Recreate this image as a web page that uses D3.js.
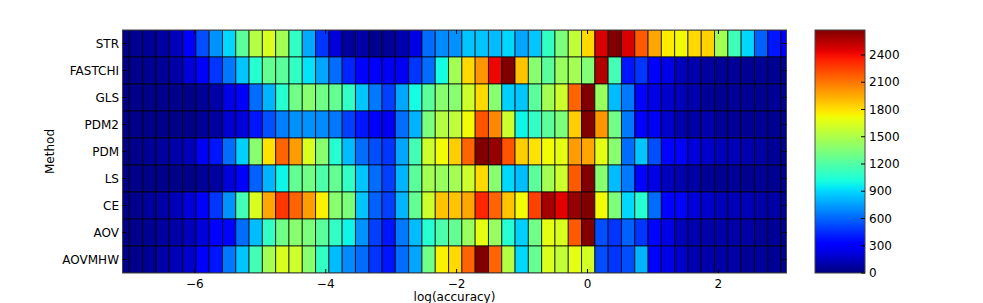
<!DOCTYPE html>
<html>
<head>
<meta charset="utf-8">
<script src="https://cdn.jsdelivr.net/npm/d3@7"></script>
<style>
  body { margin: 0; background: #fff; }
  svg text { font-family: "DejaVu Sans", sans-serif; font-size: 12px; fill: #000; }
</style>
</head>
<body>
<div id="chart"></div>
<script>
// methods, top to bottom
var methods = ["STR", "FASTCHI", "GLS", "PDM2", "PDM", "LS", "CE", "AOV", "AOVMHW"];

// log(accuracy) bins: first bin edge and bin width
var binStart = -7.2032;
var binWidth = 0.2032;

// counts per bin (51 bins)
var STR = [30,40,60,80,140,290,540,720,900,1230,1520,1640,1470,1100,780,470,210,70,90,40,60,110,240,620,700,720,850,850,830,900,770,850,1100,1340,1560,1820,2470,2675,2470,2180,1965,1770,1725,1820,1840,1470,1140,900,590,390,340];
var FASTCHI = [20,30,50,60,90,210,300,470,650,850,1060,1260,1230,1100,930,770,620,430,340,300,270,270,470,620,1000,1470,1820,2010,2420,2675,1880,1380,1230,1430,1470,1360,2560,1150,390,470,300,240,140,110,75,60,60,50,60,40,40];
var GLS = [20,20,20,30,30,20,60,90,240,300,620,810,1060,1300,1380,1300,1260,1100,850,650,500,770,1000,1230,1380,1380,1600,1820,1380,880,850,1230,1470,1600,2150,2675,1430,830,650,340,240,180,140,110,60,40,60,60,40,60,40];
var PDM2 = [20,20,20,30,20,20,60,70,190,210,390,540,670,720,720,700,650,500,390,300,270,620,810,1340,1520,1560,1720,2200,2050,1600,980,1100,1230,1340,1850,2675,2010,1300,650,300,270,180,110,90,110,60,60,50,60,40,40];
var PDM = [20,30,60,70,100,140,270,390,620,880,1380,1790,2150,1990,1640,1380,1060,830,620,540,470,770,1150,1600,1720,1850,2150,2675,2620,2200,1850,1790,1720,1680,1990,1960,1680,1380,620,850,540,340,300,210,180,140,130,110,90,60,40];
var LS = [20,20,20,30,20,20,60,70,210,300,590,810,980,1260,1300,1190,1260,1100,850,620,500,810,1230,1470,1430,1470,1600,1820,1380,900,830,1230,1470,1600,2180,2675,1380,830,650,340,240,140,110,90,60,40,60,40,60,40,40];
var CE = [30,30,70,90,130,210,300,470,720,1150,1640,1960,2280,2150,1990,1750,1380,1340,850,590,500,810,1260,1600,1880,1880,1960,2330,2150,1880,1720,2250,2590,2440,2620,2675,1720,1340,900,1060,620,340,340,210,180,140,130,130,100,90,60];
var AOV = [20,30,50,70,90,140,210,300,340,620,830,1100,1300,1380,1340,1230,1100,980,720,500,390,650,830,1060,1190,1260,1430,1680,1430,1060,880,1300,1680,1640,2180,2675,540,470,590,470,340,240,140,110,100,100,90,90,60,60,40];
var AOVMHW = [30,30,60,90,130,180,300,390,650,850,1150,1470,1640,1600,1380,1100,830,700,620,470,390,620,770,1300,1750,1820,2150,2675,2150,1520,900,1260,1640,1560,1680,1620,540,470,540,810,340,240,180,110,100,90,90,60,70,50,40];

var rows = [STR, FASTCHI, GLS, PDM2, PDM, LS, CE, AOV, AOVMHW];

var xTicks = [-6, -4, -2, 0, 2];
var cbTicks = [0, 300, 600, 900, 1200, 1500, 1800, 2100, 2400];
var vmax = 2675;

// matplotlib "jet"
function jet(t) {
  t = Math.max(0, Math.min(1, t));
  function seg(pts) {
    for (var i = 1; i < pts.length; i++) {
      if (t <= pts[i][0]) {
        var a = pts[i-1], b = pts[i];
        return a[1] + (b[1]-a[1]) * (t - a[0]) / (b[0] - a[0]);
      }
    }
    return pts[pts.length-1][1];
  }
  var r = seg([[0,0],[0.35,0],[0.66,1],[0.89,1],[1,0.5]]);
  var g = seg([[0,0],[0.125,0],[0.375,1],[0.64,1],[0.91,0],[1,0]]);
  var b = seg([[0,0.5],[0.11,1],[0.34,1],[0.65,0],[1,0]]);
  return d3.rgb(r*255, g*255, b*255).toString();
}

var W = 983, H = 303;
var pL = 122.5, pR = 786.5, pT = 30, pB = 273;

var svg = d3.select("#chart").append("svg").attr("width", W).attr("height", H);

var x = d3.scaleLinear().domain([-7.105, 3.04]).range([pL, pR]);
var y = d3.scaleBand().domain(methods).range([pT, pB]);
var color = d3.scaleSequential(jet).domain([0, vmax]);

svg.append("clipPath").attr("id", "clip")
  .append("rect").attr("x", pL).attr("y", pT).attr("width", pR-pL).attr("height", pB-pT);

var cells = svg.append("g").attr("clip-path", "url(#clip)");

rows.forEach(function(vals, r) {
  cells.selectAll(null)
    .data(vals)
    .enter().append("rect")
    .attr("x", function(d, i) { return x(binStart + i*binWidth); })
    .attr("y", y(methods[r]))
    .attr("width", function(d, i) { return x(binStart + (i+1)*binWidth) - x(binStart + i*binWidth); })
    .attr("height", y.bandwidth())
    .attr("fill", function(d) { return color(d); })
    .attr("stroke", "#000")
    .attr("stroke-opacity", 0.75)
    .attr("stroke-width", 1);
});

// frame
svg.append("rect").attr("x", pL).attr("y", pT).attr("width", pR-pL).attr("height", pB-pT)
  .attr("fill", "none").attr("stroke", "#444").attr("stroke-width", 1);

// ticks inside, all four sides
var tk = svg.append("g").attr("stroke", "#000").attr("stroke-width", 1);
xTicks.forEach(function(v) {
  tk.append("line").attr("x1", x(v)).attr("x2", x(v)).attr("y1", pB).attr("y2", pB-4);
  tk.append("line").attr("x1", x(v)).attr("x2", x(v)).attr("y1", pT).attr("y2", pT+4);
});
methods.forEach(function(m) {
  var cy = y(m) + y.bandwidth()/2;
  tk.append("line").attr("x1", pL).attr("x2", pL+4).attr("y1", cy).attr("y2", cy);
  tk.append("line").attr("x1", pR).attr("x2", pR-4).attr("y1", cy).attr("y2", cy);
});

svg.selectAll(".xl").data(xTicks).enter().append("text")
  .attr("x", function(d) { return x(d); })
  .attr("y", 288)
  .attr("text-anchor", "middle")
  .text(function(d) { return d < 0 ? "\u2212" + Math.abs(d) : d; });

svg.selectAll(".yl").data(methods).enter().append("text")
  .attr("x", 119)
  .attr("y", function(d) { return y(d) + y.bandwidth()/2; })
  .attr("dy", "0.35em")
  .attr("text-anchor", "end")
  .text(function(d) { return d; });

svg.append("text").attr("x", (pL+pR)/2).attr("y", 301).attr("text-anchor", "middle").text("log(accuracy)");
svg.append("text").attr("transform", "translate(54," + ((pT+pB)/2) + ") rotate(-90)")
  .attr("text-anchor", "middle").text("Method");

// colorbar
var cbL = 815, cbR = 865;
var cScale = d3.scaleLinear().domain([0, vmax]).range([pB, pT]);
var grad = svg.append("defs").append("linearGradient").attr("id", "jetgrad")
  .attr("x1", 0).attr("y1", 1).attr("x2", 0).attr("y2", 0);
d3.range(0, 1.0001, 0.02).forEach(function(t) {
  grad.append("stop").attr("offset", t).attr("stop-color", jet(t));
});
svg.append("rect").attr("x", cbL).attr("y", pT).attr("width", cbR-cbL).attr("height", pB-pT)
  .attr("fill", "url(#jetgrad)").attr("stroke", "#444").attr("stroke-width", 1);
cbTicks.forEach(function(v) {
  svg.append("line").attr("x1", cbR).attr("x2", cbR-4).attr("y1", cScale(v)).attr("y2", cScale(v))
    .attr("stroke", "#000");
  svg.append("text").attr("x", cbR + 4).attr("y", cScale(v)).attr("dy", "0.35em").text(v);
});
</script>
</body>
</html>
